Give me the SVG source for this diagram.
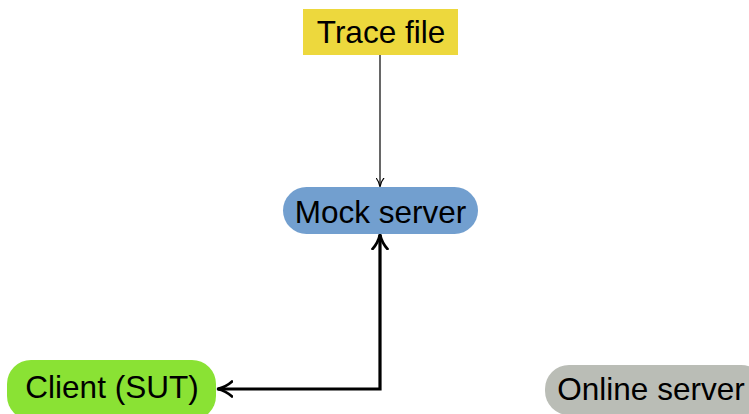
<svg xmlns="http://www.w3.org/2000/svg" width="749" height="414" viewBox="0 0 749 414">
  <style>
    .lbl { font-family: "Liberation Sans", Arial, sans-serif; font-size: 31.5px; fill: #000; text-anchor: middle; }
    .thin { stroke: #000; stroke-width: 1.2; fill: none; }
    .thick { stroke: #000; stroke-width: 3.2; fill: none; stroke-linejoin: miter; }
  </style>
  <defs>
    <marker id="tip" viewBox="0 0 10 10" refX="9" refY="5" markerWidth="9" markerHeight="9" markerUnits="userSpaceOnUse" orient="auto">
      <path d="M0,0.5 Q4,4 10,5 Q4,6 0,9.5" fill="none" stroke="#000" stroke-width="1.3"/>
    </marker>
    <marker id="tipBold" viewBox="0 0 10 10" refX="8.5" refY="5" markerWidth="5.5" markerHeight="5.5" orient="auto-start-reverse">
      <path d="M0,0.3 Q4,4 9,5 Q4,6 0,9.7" fill="none" stroke="#000" stroke-width="1.5"/>
    </marker>
  </defs>
  <rect width="749" height="414" fill="#fff"/>

  <g id="connectors">
    <line class="thin" x1="380" y1="55" x2="380" y2="186" marker-end="url(#tip)"/>
    <path class="thick" d="M218,389 H380 V235" marker-start="url(#tipBold)" marker-end="url(#tipBold)"/>
  </g>

  <g id="trace-file">
    <rect x="303" y="9" width="155" height="46" fill="#EDD83D"/>
    <text class="lbl" x="381" y="43">Trace file</text>
  </g>

  <g id="mock-server">
    <rect x="283" y="187" width="195" height="47" rx="23.5" fill="#729FCF"/>
    <text class="lbl" x="380.5" y="223">Mock server</text>
  </g>

  <g id="client">
    <rect x="7" y="360" width="209" height="60" rx="24" fill="#8AE234"/>
    <text class="lbl" x="112" y="398">Client (SUT)</text>
  </g>

  <g id="online-server">
    <rect x="545" y="365" width="220" height="50" rx="24" fill="#BABDB6"/>
    <text class="lbl" x="651" y="400">Online server</text>
  </g>
</svg>
